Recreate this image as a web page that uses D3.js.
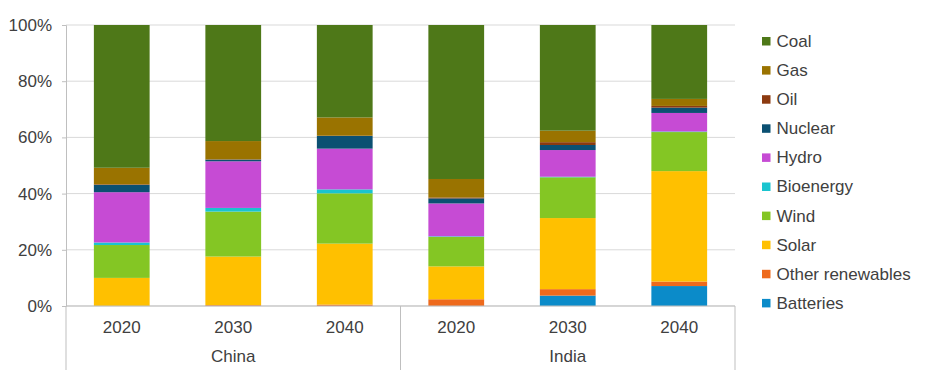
<!DOCTYPE html>
<html>
<head>
<meta charset="utf-8">
<script src="https://cdn.jsdelivr.net/npm/d3@7"></script>
<style>
  body { margin: 0; background: #fff; }
  text { font-family: "Liberation Sans", Arial, sans-serif; fill: #404040; }
</style>
</head>
<body>
<div id="chart"></div>
<script>
// categories
var countries = ["China", "China", "China", "India", "India", "India"];
var years = ["2020", "2030", "2040", "2020", "2030", "2040"];
var groups = ["China", "India"];

// series, bottom of the stack first (values in %)
var seriesNames = ["Batteries", "Other renewables", "Solar", "Wind", "Bioenergy", "Hydro", "Nuclear", "Oil", "Gas", "Coal"];
var batteries = [0, 0, 0, 0, 3.7, 7.1];
var otherRenewables = [0, 0.3, 0.5, 2.4, 2.3, 1.6];
var solar = [10, 17.3, 21.7, 11.7, 25.3, 39.3];
var wind = [11.7, 16.0, 17.9, 10.5, 14.5, 13.9];
var bioenergy = [0.9, 1.3, 1.4, 0.2, 0.2, 0.2];
var hydro = [17.9, 16.6, 14.5, 11.7, 9.5, 6.6];
var nuclear = [2.6, 0.6, 4.5, 1.8, 1.8, 1.9];
var oil = [0.2, 0.1, 0.1, 0.3, 1.0, 0.6];
var gas = [5.9, 6.5, 6.5, 6.6, 4.1, 2.5];
var coal = [50.8, 41.3, 32.9, 54.8, 37.6, 26.3];
var yTicks = [0, 20, 40, 60, 80, 100];

var colors = ["#0b8bc9", "#ee6a1c", "#ffc000", "#84c624", "#1ac4cf", "#c64bd4", "#0b5072", "#8c3a10", "#9a7300", "#4e7818"];

var allValues = [batteries, otherRenewables, solar, wind, bioenergy, hydro, nuclear, oil, gas, coal];

var width = 940, height = 386;
var margin = { left: 66, right: 205, top: 25, bottom: 80 };

var svg = d3.select("#chart").append("svg")
    .attr("width", width)
    .attr("height", height);

var rows = years.map(function (y, i) {
    var r = { key: countries[i] + y };
    seriesNames.forEach(function (s, j) { r[s] = allValues[j][i]; });
    return r;
});

var x = d3.scaleBand()
    .domain(rows.map(function (d) { return d.key; }))
    .range([margin.left, width - margin.right])
    .paddingInner(0.5)
    .paddingOuter(0.25);

var y = d3.scaleLinear()
    .domain([0, 100])
    .range([height - margin.bottom, margin.top]);

// gridlines
svg.append("g")
    .selectAll("line")
    .data(yTicks)
    .enter().append("line")
    .attr("x1", margin.left)
    .attr("x2", width - margin.right)
    .attr("y1", function (d) { return y(d); })
    .attr("y2", function (d) { return y(d); })
    .attr("stroke", "#d9d9d9")
    .attr("stroke-width", 1);

// y axis
var yAxis = svg.append("g")
    .attr("transform", "translate(" + margin.left + ",0)")
    .call(d3.axisLeft(y).tickValues(yTicks).tickSize(4).tickPadding(10)
        .tickFormat(function (d) { return d + "%"; }));
yAxis.select(".domain").attr("stroke", "#bfbfbf");
yAxis.selectAll(".tick line").attr("stroke", "#bfbfbf");
yAxis.selectAll("text").style("font-size", "17px").attr("fill", "#404040");

// stacked bars
var stack = d3.stack().keys(seriesNames);
var layers = stack(rows);

svg.append("g")
    .selectAll("g")
    .data(layers)
    .enter().append("g")
    .attr("fill", function (d, i) { return colors[i]; })
    .selectAll("rect")
    .data(function (d) { return d; })
    .enter().append("rect")
    .attr("x", function (d) { return x(d.data.key); })
    .attr("width", x.bandwidth())
    .attr("y", function (d) { return y(d[1]); })
    .attr("height", function (d) { return y(d[0]) - y(d[1]); });

// x axis with two levels
var baseY = y(0);
svg.append("line")
    .attr("x1", margin.left).attr("x2", width - margin.right)
    .attr("y1", baseY).attr("y2", baseY)
    .attr("stroke", "#bfbfbf");

var step = x.step();
var groupEdges = [margin.left, margin.left + step * 3, width - margin.right];
svg.append("g")
    .selectAll("line")
    .data(groupEdges)
    .enter().append("line")
    .attr("x1", function (d) { return d; })
    .attr("x2", function (d) { return d; })
    .attr("y1", baseY)
    .attr("y2", baseY + 64)
    .attr("stroke", "#bfbfbf");

svg.append("g")
    .selectAll("text")
    .data(rows)
    .enter().append("text")
    .attr("x", function (d) { return x(d.key) + x.bandwidth() / 2; })
    .attr("y", baseY + 27)
    .attr("text-anchor", "middle")
    .style("font-size", "17px")
    .text(function (d, i) { return years[i]; });

svg.append("g")
    .selectAll("text")
    .data(groups)
    .enter().append("text")
    .attr("x", function (d, i) { return (groupEdges[i] + groupEdges[i + 1]) / 2; })
    .attr("y", baseY + 56)
    .attr("text-anchor", "middle")
    .style("font-size", "17px")
    .text(function (d) { return d; });

// legend, top item = Coal
var legendNames = seriesNames.slice().reverse();
var legendColors = colors.slice().reverse();
var legend = svg.append("g")
    .selectAll("g")
    .data(legendNames)
    .enter().append("g")
    .attr("transform", function (d, i) { return "translate(762," + (41 + i * 29.1) + ")"; });

legend.append("rect")
    .attr("x", 0).attr("y", -4)
    .attr("width", 8.5).attr("height", 8.5)
    .attr("fill", function (d, i) { return legendColors[i]; });

legend.append("text")
    .attr("x", 14.5)
    .attr("dy", "0.35em")
    .style("font-size", "17px")
    .text(function (d) { return d; });
</script>
</body>
</html>
